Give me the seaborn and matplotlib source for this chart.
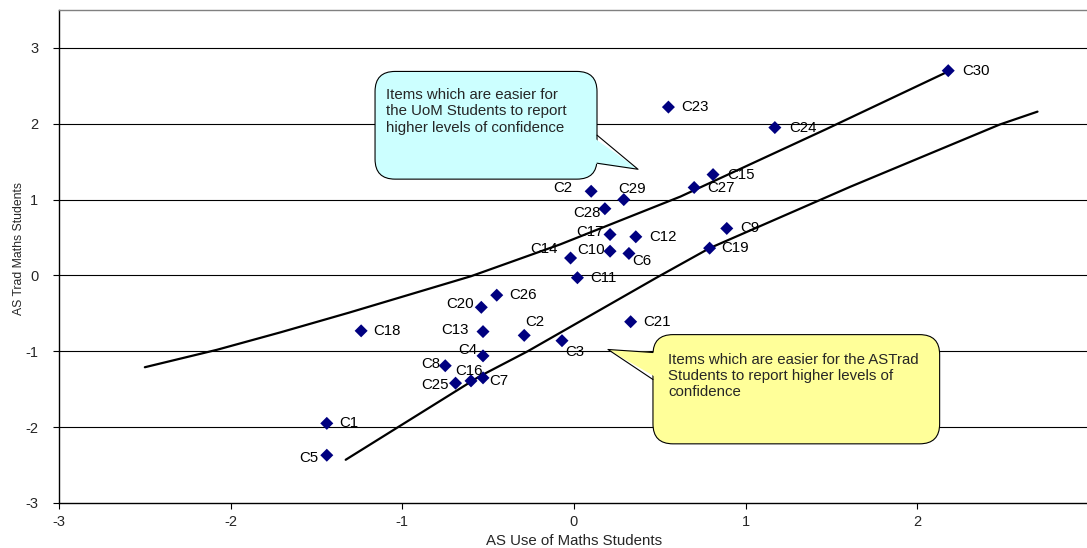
import numpy as np
import pandas as pd
import matplotlib
matplotlib.use('Agg')
import matplotlib.pyplot as plt
import seaborn as sns
from matplotlib.patches import FancyBboxPatch, Polygon

# item estimates (x = AS Use of Maths, y = AS Trad Maths)
items = ['C1', 'C2', 'C2', 'C3', 'C4', 'C5', 'C6', 'C7', 'C8', 'C9',
         'C10', 'C11', 'C12', 'C13', 'C14', 'C15', 'C16', 'C17', 'C18', 'C19',
         'C20', 'C21', 'C23', 'C24', 'C25', 'C26', 'C27', 'C28', 'C29', 'C30']
use_maths = [-1.44, 0.10, -0.29, -0.07, -0.53, -1.44, 0.32, -0.53, -0.75, 0.89,
             0.21, 0.02, 0.36, -0.53, -0.02, 0.81, -0.60, 0.21, -1.24, 0.79,
             -0.54, 0.33, 0.55, 1.17, -0.69, -0.45, 0.70, 0.18, 0.29, 2.18]
trad_maths = [-1.95, 1.11, -0.79, -0.86, -1.06, -2.37, 0.29, -1.35, -1.19, 0.62,
              0.32, -0.03, 0.51, -0.74, 0.23, 1.33, -1.39, 0.54, -0.73, 0.36,
              -0.42, -0.61, 2.22, 1.95, -1.42, -0.26, 1.16, 0.88, 1.00, 2.70]

# hand drawn boundary curves
upper_x = [-2.50, -2.08, -1.71, -1.31, -0.60, -0.08, 0.62, 1.47, 2.18]
upper_y = [-1.21, -0.98, -0.75, -0.49, -0.01, 0.41, 1.04, 1.93, 2.69]
lower_x = [-1.33, -0.55, -0.27, 0.48, 0.79, 1.61, 2.48, 2.70]
lower_y = [-2.43, -1.33, -1.00, -0.03, 0.36, 1.17, 1.99, 2.16]

upper_note = 'Items which are easier for\nthe UoM Students to report\nhigher levels of confidence'
lower_note = 'Items which are easier for the ASTrad\nStudents to report higher levels of\nconfidence'

# label placement (pixel offsets from the marker, alignment)
label_pos = [(12, 0, 'left'), (-19, 3, 'right'), (1, 13, 'left'), (3, -11, 'left'),
             (-6, 6, 'right'), (-8, -3, 'right'), (3, -8, 'left'), (6, -3, 'left'),
             (-5, 2, 'right'), (13, 0, 'left'), (-5, 1, 'right'), (13, 0, 'left'),
             (13, 0, 'left'), (-14, 2, 'right'), (-13, 9, 'right'), (14, 0, 'left'),
             (-2, 10, 'center'), (-6, 3, 'right'), (12, 0, 'left'), (12, 0, 'left'),
             (-7, 3, 'right'), (13, 0, 'left'), (13, 0, 'left'), (14, 0, 'left'),
             (-7, -2, 'right'), (12, 0, 'left'), (13, -1, 'left'), (-4, -4, 'right'),
             (-6, 11, 'left'), (14, 0, 'left')]

df = pd.DataFrame({'item': items, 'x': use_maths, 'y': trad_maths})
curves = pd.concat([
    pd.DataFrame({'x': upper_x, 'y': upper_y, 'curve': 'upper'}),
    pd.DataFrame({'x': lower_x, 'y': lower_y, 'curve': 'lower'}),
])

sns.set_style('white')
plt.rcParams['font.family'] = ['Liberation Sans', 'DejaVu Sans']
plt.rcParams['axes.unicode_minus'] = False

W, H = 1087, 548
fig = plt.figure(figsize=(W / 100, H / 100), dpi=100)
ax = fig.add_axes([59 / W, 45 / H, 1030 / W, 493 / H])
ax.set_xlim(-3, 3)
ax.set_ylim(-3, 3.5)

for yv in range(-2, 4):
    ax.axhline(yv, color='black', lw=0.8, zorder=1)

sns.lineplot(data=curves, x='x', y='y', units='curve', estimator=None, sort=False,
             color='black', lw=1.6, ax=ax, zorder=2)
sns.scatterplot(data=df, x='x', y='y', marker='D', s=44, color='#000080',
                edgecolor='none', ax=ax, zorder=5, legend=False)

for (name, xv, yv), (dx, dy, ha) in zip(zip(items, use_maths, trad_maths), label_pos):
    ax.annotate(name, (xv, yv), xytext=(dx, dy), textcoords='offset pixels',
                ha=ha, va='center', fontsize=10.8, color='black', zorder=6)

# callouts
fig.canvas.draw()
px_x = ax.transData.transform((1, 0))[0] - ax.transData.transform((0, 0))[0]
px_y = ax.transData.transform((0, 1))[1] - ax.transData.transform((0, 0))[1]
aspect = px_x / px_y
r = 20 / px_x


def callout(x0, y0, x1, y1, base_a, tip, base_b, face, text, tx, ty):
    box = FancyBboxPatch((x0, y0), x1 - x0, y1 - y0,
                         boxstyle=f'round,pad=0,rounding_size={r}',
                         mutation_aspect=aspect, fc=face, ec='black', lw=0.8, zorder=7)
    ax.add_patch(box)
    inner = 0.04 if base_a[0] >= x1 - 1e-6 else -0.04
    cover = Polygon([(base_a[0] - inner, base_a[1]), tip, (base_b[0] - inner, base_b[1])],
                    closed=True, fc=face, ec='none', zorder=8)
    ax.add_patch(cover)
    ax.plot([base_a[0], tip[0], base_b[0]], [base_a[1], tip[1], base_b[1]],
            color='black', lw=0.8, zorder=8)
    ax.text(tx, ty, text, fontsize=10.8, ha='left', va='top', linespacing=1.2, zorder=9)


callout(-1.159, 1.27, 0.134, 2.69, (0.134, 1.85), (0.373, 1.40), (0.134, 1.48),
        '#CCFFFF', upper_note, -1.095, 2.47)
callout(0.46, -2.22, 2.13, -0.78, (0.46, -1.016), (0.198, -0.976), (0.46, -1.372),
        '#FFFF99', lower_note, 0.547, -1.02)

ax.set_xticks(range(-3, 3))
ax.set_yticks(range(-3, 4))
ax.tick_params(axis='both', direction='out', length=4, width=0.8, color='black',
               labelsize=10.5, bottom=True, left=True)
ax.tick_params(axis='y', pad=11)
ax.tick_params(axis='x', pad=5)

for side in ['left', 'bottom']:
    ax.spines[side].set_color('black')
    ax.spines[side].set_linewidth(1.0)
ax.spines['top'].set_color('#808080')
ax.spines['top'].set_linewidth(1.0)
ax.spines['right'].set_visible(False)

ax.set_xlabel('AS Use of Maths Students', fontsize=10.8)
ax.set_ylabel('AS Trad Maths Students', fontsize=8.8)
ax.xaxis.set_label_coords(0.5, -0.062)
ax.yaxis.set_label_coords(-0.033, 0.516)

fig.savefig('out.png', dpi=100)
